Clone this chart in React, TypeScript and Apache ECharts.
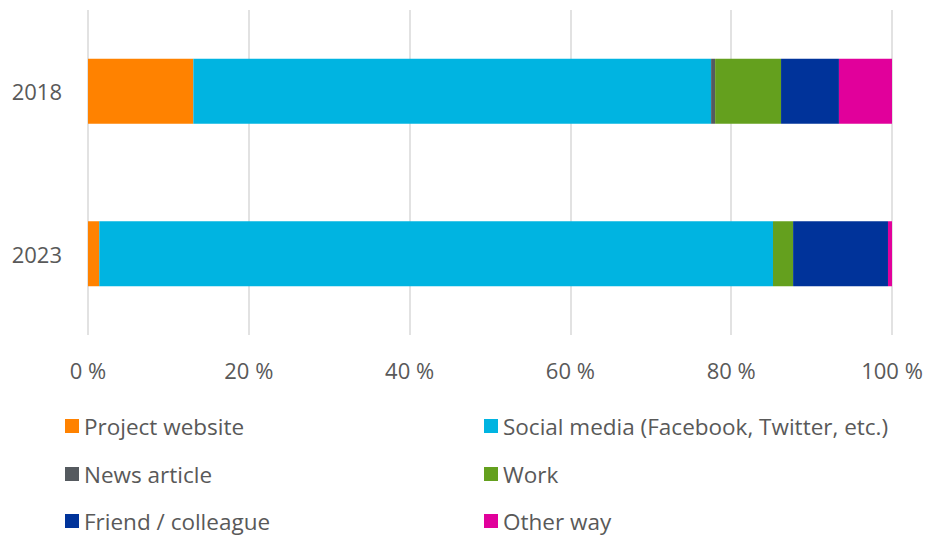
import React, { useEffect, useRef } from "react";
import * as echarts from "echarts";

const categories = ["2018", "2023"];
const seriesNames = [
  "Project website",
  "Social media (Facebook, Twitter, etc.)",
  "News article",
  "Work",
  "Friend / colleague",
  "Other way",
];
const projectWebsite = [13.1, 1.4];
const socialMedia = [64.4, 83.8];
const newsArticle = [0.5, 0];
const work = [8.2, 2.5];
const friendColleague = [7.2, 11.8];
const otherWay = [6.6, 0.5];
const colors = ["#FF8200", "#00B4E1", "#555A5F", "#64A01E", "#00339A", "#E1009B"];
const xTicks = [0, 20, 40, 60, 80, 100];

const FONT = "'Open Sans', 'Noto Sans', sans-serif";

export default function App() {
  const ref = useRef<HTMLDivElement>(null);
  useEffect(() => {
    if (!ref.current) return;
    const chart = echarts.init(ref.current, null, { renderer: "svg" });
    const values = [projectWebsite, socialMedia, newsArticle, work, friendColleague, otherWay];
    const legendText = { color: "#595959", fontSize: 22.5, fontFamily: FONT, lineHeight: 28 };
    const legendPos = [
      { left: 65, top: 412 },
      { left: 484, top: 412 },
      { left: 65, top: 460 },
      { left: 484, top: 460 },
      { left: 65, top: 507 },
      { left: 484, top: 507 },
    ];
    chart.setOption({
      animation: false,
      color: colors,
      grid: { left: 88, right: 35, top: 10, bottom: 200, containLabel: false },
      xAxis: {
        type: "value",
        min: xTicks[0],
        max: xTicks[xTicks.length - 1],
        interval: 20,
        axisLine: { show: false },
        axisTick: { show: false },
        splitLine: { lineStyle: { color: "#D9D9D9", width: 1.5 } },
        axisLabel: {
          formatter: (v: number) => `${v} %`,
          color: "#595959",
          fontSize: 22,
          fontFamily: FONT,
          margin: 24,
        },
      },
      yAxis: {
        type: "category",
        data: categories,
        inverse: true,
        axisLine: { show: false },
        axisTick: { show: false },
        axisLabel: { color: "#595959", fontSize: 22, fontFamily: FONT, margin: 26 },
      },
      legend: seriesNames.map((name, i) => ({
        orient: "horizontal",
        left: legendPos[i].left,
        top: legendPos[i].top,
        padding: 0,
        itemWidth: 14,
        itemHeight: 14,
        icon: "rect",
        data: [name],
        textStyle: legendText,
      })),
      series: seriesNames.map((name, i) => ({
        name,
        type: "bar",
        stack: "total",
        data: values[i],
        barCategoryGap: "60%",
        itemStyle: { color: colors[i] },
      })),
    });
    return () => chart.dispose();
  }, []);
  return <div ref={ref} style={{ width: 927, height: 535, position: "absolute", left: 0, top: 0 }} />;
}
